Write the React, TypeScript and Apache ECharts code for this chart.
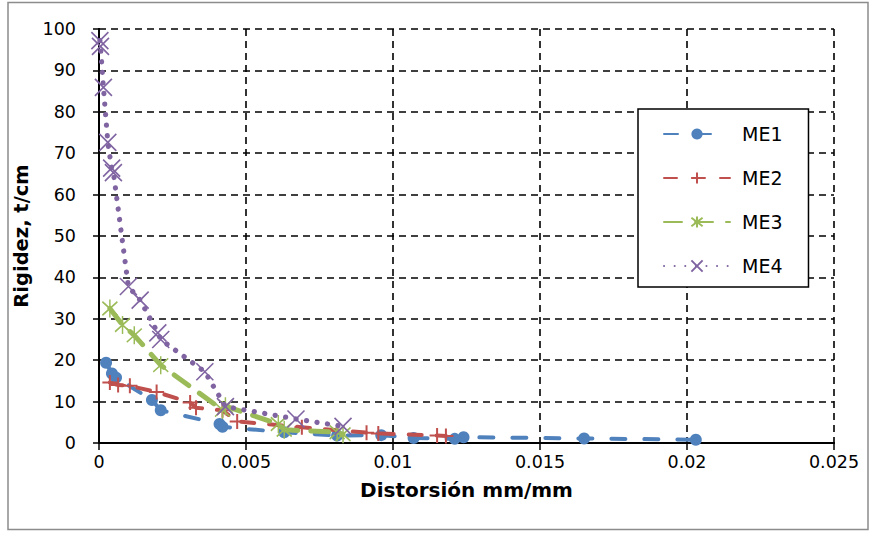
import React, { useEffect, useRef } from "react";
import * as echarts from "echarts";

const seriesNames = ["ME1", "ME2", "ME3", "ME4"];
const colors = ["#4F81BD", "#C0504D", "#9BBB59", "#8064A2"];

const me1X = [0.00024, 0.00044, 0.00058, 0.0018, 0.0021, 0.0041, 0.0042, 0.0063, 0.0081, 0.0096, 0.0107, 0.0121, 0.0124, 0.0165, 0.0203];
const me1Y = [19.4, 16.8, 15.8, 10.4, 7.9, 4.6, 3.9, 2.6, 1.8, 1.9, 1.2, 1.0, 1.4, 1.1, 0.8];

const me2X = [0.00037, 0.00065, 0.00105, 0.00196, 0.0031, 0.0033, 0.0042, 0.0047, 0.0069, 0.0091, 0.0095, 0.0115, 0.0118];
const me2Y = [14.6, 14.0, 13.8, 12.3, 9.8, 8.5, 7.9, 5.2, 3.8, 2.5, 2.3, 1.8, 1.7];

const me3X = [0.00037, 0.0008, 0.0012, 0.0021, 0.0042, 0.0043, 0.0061, 0.0063, 0.0081, 0.0083];
const me3Y = [32.5, 28.5, 26.0, 18.8, 8.0, 8.9, 4.6, 3.2, 2.6, 2.1];

const me4X = [0.00003, 0.00005, 0.00015, 0.0003, 0.00043, 0.00049, 0.001, 0.0014, 0.002, 0.0021, 0.0036, 0.0043, 0.0067, 0.0083];
const me4Y = [97.2, 95.8, 85.9, 72.6, 66.4, 65.3, 37.8, 34.5, 26.6, 25.0, 17.2, 8.8, 5.8, 4.0];

const xTicks = { min: 0, max: 0.025, interval: 0.005 };
const yTicks = { min: 0, max: 100, interval: 10 };

const FONT = "DejaVu Sans";

function pairs(xs: number[], ys: number[]) {
  return xs.map((x, i) => [x, ys[i]]);
}

export default function App() {
  const ref = useRef<HTMLDivElement>(null);
  useEffect(() => {
    document.body.style.margin = "0";
    const chart = echarts.init(ref.current!, undefined, { renderer: "svg" });
    const data = [pairs(me1X, me1Y), pairs(me2X, me2Y), pairs(me3X, me3Y), pairs(me4X, me4Y)];
    const symbols = [
      "circle",
      "path://M0,-7L0,7M-7,0L7,0",
      "path://M0,-8L0,8M-6,-6L6,6M-6,6L6,-6",
      "path://M-7,-7L7,7M-7,7L7,-7",
    ];
    const symbolSizes: any[] = [12, 15, [15, 18], 17];
    const lineTypes: any[] = [[14, 19], [13, 15], [18, 13], [0.1, 10.5]];
    const lineWidths = [4, 4, 5, 5.2];
    const series = seriesNames.map((name, i) => ({
      name,
      type: "line",
      data: data[i],
      symbol: symbols[i],
      symbolSize: symbolSizes[i],
      lineStyle: { color: colors[i], width: lineWidths[i], type: lineTypes[i], cap: "round" },
      itemStyle: {
        color: colors[i],
        borderColor: colors[i],
        borderWidth: i === 0 ? 0 : i === 1 ? 2 : 1.6,
      },
      z: 2 + i,
    }));
    const dashed = { color: "#000", width: 1.6, type: [7, 5] };
    chart.setOption({
      animation: false,
      textStyle: { fontFamily: FONT },
      grid: { left: 99, right: 36, top: 29, bottom: 91 },
      xAxis: [
        {
          type: "value",
          ...xTicks,
          name: "Distorsión mm/mm",
          nameLocation: "middle",
          nameGap: 37,
          nameTextStyle: { fontFamily: FONT, fontSize: 20, fontWeight: "bold", color: "#000" },
          axisLine: { show: true, onZero: false, lineStyle: { color: "#000", width: 2 } },
          axisTick: { show: true, length: 7, lineStyle: { color: "#000", width: 1.5 } },
          axisLabel: { fontFamily: FONT, fontSize: 17.5, color: "#000", margin: 10 },
          splitLine: { show: true, lineStyle: dashed },
        },
        {
          type: "value",
          ...xTicks,
          position: "top",
          axisLine: { show: true, lineStyle: { color: "#000", width: 2 } },
          axisTick: { show: false },
          axisLabel: { show: false },
          splitLine: { show: false },
        },
      ],
      yAxis: [
        {
          type: "value",
          ...yTicks,
          name: "Rigidez, t/cm",
          nameLocation: "middle",
          nameGap: 56,
          nameTextStyle: { fontFamily: FONT, fontSize: 19.5, fontWeight: "bold", color: "#000" },
          axisLine: { show: true, onZero: false, lineStyle: { color: "#000", width: 2 } },
          axisTick: { show: true, length: 6, lineStyle: { color: "#000", width: 1.5 } },
          axisLabel: { fontFamily: FONT, fontSize: 17.5, color: "#000", margin: 23 },
          splitLine: { show: true, lineStyle: dashed },
        },
        {
          type: "value",
          ...yTicks,
          position: "right",
          axisLine: { show: true, lineStyle: { color: "#000", width: 2 } },
          axisTick: { show: false },
          axisLabel: { show: false },
          splitLine: { show: false },
        },
      ],
      legend: {
        orient: "vertical",
        left: 638,
        top: 109,
        data: seriesNames,
        itemWidth: 66,
        itemHeight: 14,
        itemGap: 24,
        padding: [15, 26, 11, 25],
        borderColor: "#000",
        borderWidth: 1.5,
        backgroundColor: "#fff",
        textStyle: { fontFamily: FONT, fontSize: 19, lineHeight: 20, color: "#000", padding: [0, 0, 0, 7] },
      },
      graphic: [
        {
          type: "rect",
          shape: { x: 8, y: 2.5, width: 860, height: 527 },
          style: { fill: "none", stroke: "#8c8c8c", lineWidth: 1.5 },
          silent: true,
        },
      ],
      series,
    });
    return () => chart.dispose();
  }, []);
  return <div ref={ref} style={{ width: 870, height: 534 }} />;
}
